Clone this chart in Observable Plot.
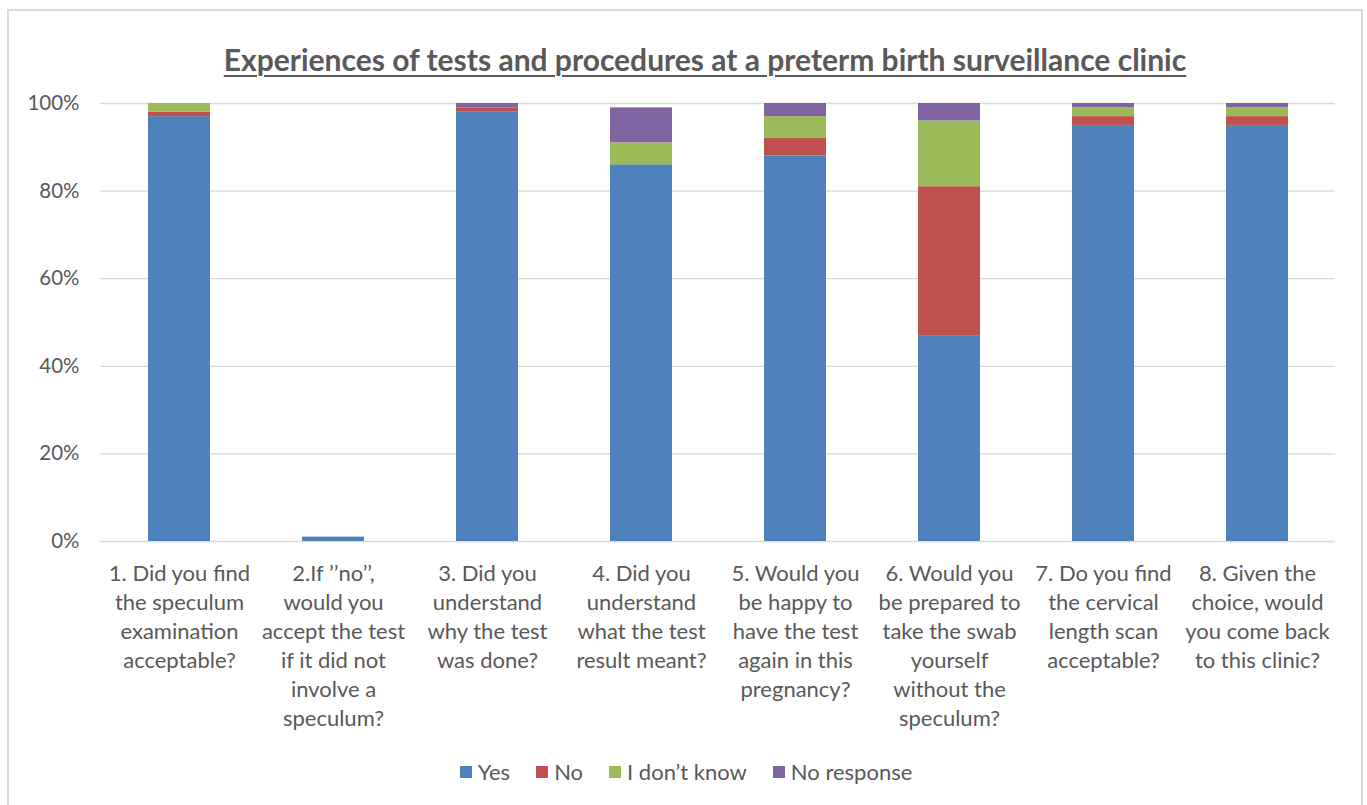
<!DOCTYPE html>
<html>
<head>
<meta charset="utf-8">
<script src="https://cdn.jsdelivr.net/npm/d3@7"></script>
<script src="https://cdn.jsdelivr.net/npm/@observablehq/plot@0.6"></script>
<style>
  html, body { margin: 0; padding: 0; background: #fff; }
  body { width: 1367px; height: 805px; overflow: hidden; position: relative; font-family: Lato, "Noto Sans", sans-serif; }
  #frame { position: absolute; left: 7px; top: 9px; width: 1352px; height: 820px; border: 2px solid #d9d9d9; pointer-events: none; }
  #title { height: 90px; box-sizing: border-box; padding-top: 41px; padding-left: 43px; text-align: center; font-family: Lato, sans-serif; font-weight: bold; font-size: 30px; line-height: 36px; color: #595959; text-decoration: underline; text-decoration-thickness: 2px; text-underline-offset: 4px; white-space: nowrap; }
  #legend { margin-top: 17px; padding-left: 5px; display: flex; justify-content: center; }
  #legend .lg-swatches-wrap { justify-content: center; min-height: 20px !important; }
  #legend .lg-swatch { margin-right: 26px !important; font-size: 22px; color: #595959; font-family: Lato, sans-serif; }
  #legend .lg-swatch:last-child { margin-right: 0 !important; }
  #legend .lg-swatch > svg { margin-right: 6px !important; }
</style>
</head>
<body>
<div id="frame"></div>
<div id="title">Experiences of tests and procedures at a preterm birth surveillance clinic</div>
<div id="chart"></div>
<div id="legend"></div>
<script>
const questions = [
  "1. Did you find\nthe speculum\nexamination\nacceptable?",
  "2.If \u2019\u2019no\u2019\u2019,\nwould you\naccept the test\nif it did not\ninvolve a\nspeculum?",
  "3. Did you\nunderstand\nwhy the test\nwas done?",
  "4. Did you\nunderstand\nwhat the test\nresult meant?",
  "5. Would you\nbe happy to\nhave the test\nagain in this\npregnancy?",
  "6. Would you\nbe prepared to\ntake the swab\nyourself\nwithout the\nspeculum?",
  "7. Do you find\nthe cervical\nlength scan\nacceptable?",
  "8. Given the\nchoice, would\nyou come back\nto this clinic?"
];
const seriesNames = ["Yes", "No", "I don\u2019t know", "No response"];
const seriesColors = ["#4F81BD", "#C0504D", "#9BBB59", "#8064A2"];

const yesValues        = [97, 1, 98, 86, 88, 47, 95, 95];
const noValues         = [1, 0, 1, 0, 4, 34, 2, 2];
const dontKnowValues   = [2, 0, 0, 5, 5, 15, 2, 2];
const noResponseValues = [0, 0, 1, 8, 3, 4, 1, 1];

const yTicks = [0, 20, 40, 60, 80, 100];

const seriesValues = [yesValues, noValues, dontKnowValues, noResponseValues];
const data = [];
seriesNames.forEach((s, i) => {
  questions.forEach((q, j) => {
    data.push({question: q, series: s, value: seriesValues[i][j]});
  });
});

const chart = Plot.plot({
  width: 1367,
  height: 651,
  marginTop: 13,
  marginBottom: 200,
  marginLeft: 100,
  marginRight: 32,
  style: {fontFamily: "Lato, sans-serif", fontSize: "21px", color: "#595959", background: "transparent", overflow: "visible"},
  x: {domain: questions, paddingInner: 0.6, paddingOuter: 0.3, label: null},
  y: {domain: [0, 100], label: null},
  color: {domain: seriesNames, range: seriesColors},
  marks: [
    Plot.gridY(yTicks, {stroke: "#d9d9d9", strokeOpacity: 1, strokeWidth: 1.3}),
    Plot.barY(data, {x: "question", y: "value", fill: "series", order: seriesNames}),
    Plot.axisY(yTicks, {tickSize: 0, tickPadding: 21, tickFormat: d => d + "%", fontSize: 20.5, fill: "#595959", label: null}),
    Plot.axisX({tickSize: 0, tickPadding: 19, lineHeight: 1.318, fontSize: 22, fill: "#595959", label: null, textOverflow: null})
  ]
});
document.getElementById("chart").appendChild(chart);

const legend = Plot.legend({
  color: {type: "ordinal", domain: seriesNames, range: seriesColors},
  legend: "swatches",
  swatchSize: 12,
  className: "lg"
});
document.getElementById("legend").appendChild(legend);
</script>
</body>
</html>
